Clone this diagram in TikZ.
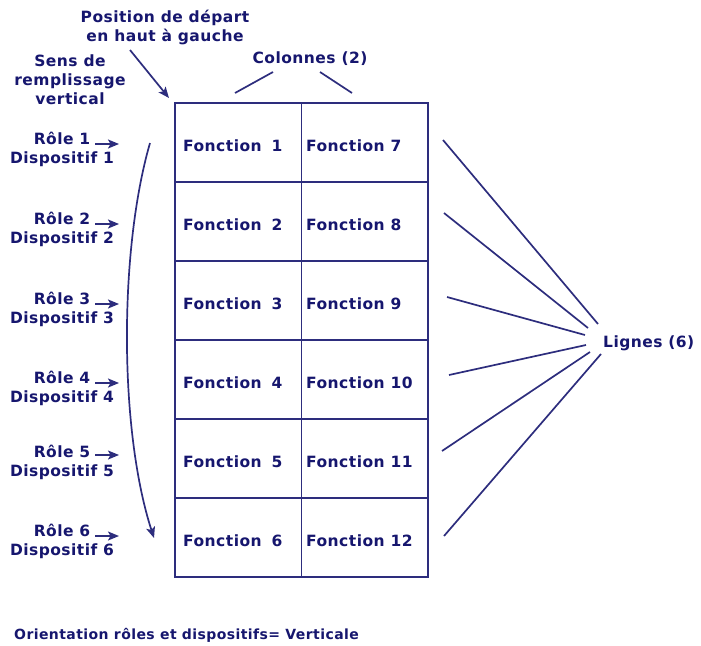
\documentclass[tikz,border=0pt]{standalone}
\usepackage{fontspec}
\setmainfont{DejaVu Sans}[LetterSpace=3]
\usetikzlibrary{arrows.meta}
\definecolor{navytxt}{RGB}{22,22,110}
\definecolor{navyline}{RGB}{45,45,125}
\begin{document}
\begin{tikzpicture}[x=1pt,y=-1pt,
  every node/.style={text=navytxt,font=\fontsize{15.5}{19}\selectfont\bfseries,inner sep=0pt},
  cell/.style={draw=navyline,line width=1.8pt,minimum width=126.5pt,minimum height=79pt},
  lbl/.style={align=center},
  ln/.style={draw=navyline,line width=1.7pt},
  arr/.style={ln,-{Stealth[length=11pt,width=9pt,inset=2.5pt]}}]
\useasboundingbox (0,0) rectangle (701,645);
% grid
\foreach \i/\y in {1/142.5,2/221.5,3/300.5,4/379.5,5/458.5,6/537.5}{
  \node[cell,anchor=west] (c\i) at (174,\y) {};
  \node[anchor=west] (tc\i) at (183,\y+3) {Fonction\hspace{4pt} \i};
}
\foreach \i/\j/\y in {1/7/142.5,2/8/221.5,3/9/300.5,4/10/379.5,5/11/458.5,6/12/537.5}{
  \node[cell,anchor=west] (d\i) at (300.5,\y) {};
  \node[anchor=west] (td\i) at (306,\y+3) {Fonction \j};
}
% top labels
\node[lbl] (pos) at (165,27.5) {Position de départ\\en haut à gauche};
\node[lbl] (sens) at (70,80) {Sens de\\remplissage\\vertical};
\coordinate (posA) at (130,50);
\coordinate (posB) at (169,98);
\draw[arr] (posA) -- (posB);
\node (col) at (310,59) {Colonnes (2)};
\coordinate (colL1) at (273,72); \coordinate (colL2) at (235,93);
\coordinate (colR1) at (320,72); \coordinate (colR2) at (352,93);
\draw[ln] (colL1) -- (colL2);
\draw[ln] (colR1) -- (colR2);
% left labels and arrows
\foreach \k/\y/\ay in {1/149.5/144,2/229.5/224,3/309.5/304,4/388.5/383,5/462.5/455,6/541/536}{
  \node[lbl] (r\k) at (62,\y) {Rôle \k\\Dispositif \k};
  \coordinate (ra\k) at (95,\ay);
  \coordinate (rb\k) at (119,\ay);
  \draw[arr] (ra\k) -- (rb\k);
}
% curved arrow
\coordinate (cs) at (150,143);
\coordinate (ce) at (154,538);
\draw[arr] (cs) .. controls (119,250) and (119,430) .. (ce);
% lignes
\node[anchor=west] (lig) at (603,343) {Lignes (6)};
\coordinate (l1a) at (443,140); \coordinate (l1b) at (598,324);
\coordinate (l2a) at (444,213); \coordinate (l2b) at (588,328);
\coordinate (l3a) at (447,297); \coordinate (l3b) at (585,335);
\coordinate (l4a) at (449,375); \coordinate (l4b) at (586,345);
\coordinate (l5a) at (442,451); \coordinate (l5b) at (590,352);
\coordinate (l6a) at (444,536); \coordinate (l6b) at (601,354);
\foreach \k in {1,...,6}{\draw[ln] (l\k a) -- (l\k b);}
% bottom
\node[anchor=west,font=\fontsize{14}{17}\selectfont\bfseries] (orient) at (14,635) {Orientation rôles et dispositifs= Verticale};
\end{tikzpicture}
\end{document}
